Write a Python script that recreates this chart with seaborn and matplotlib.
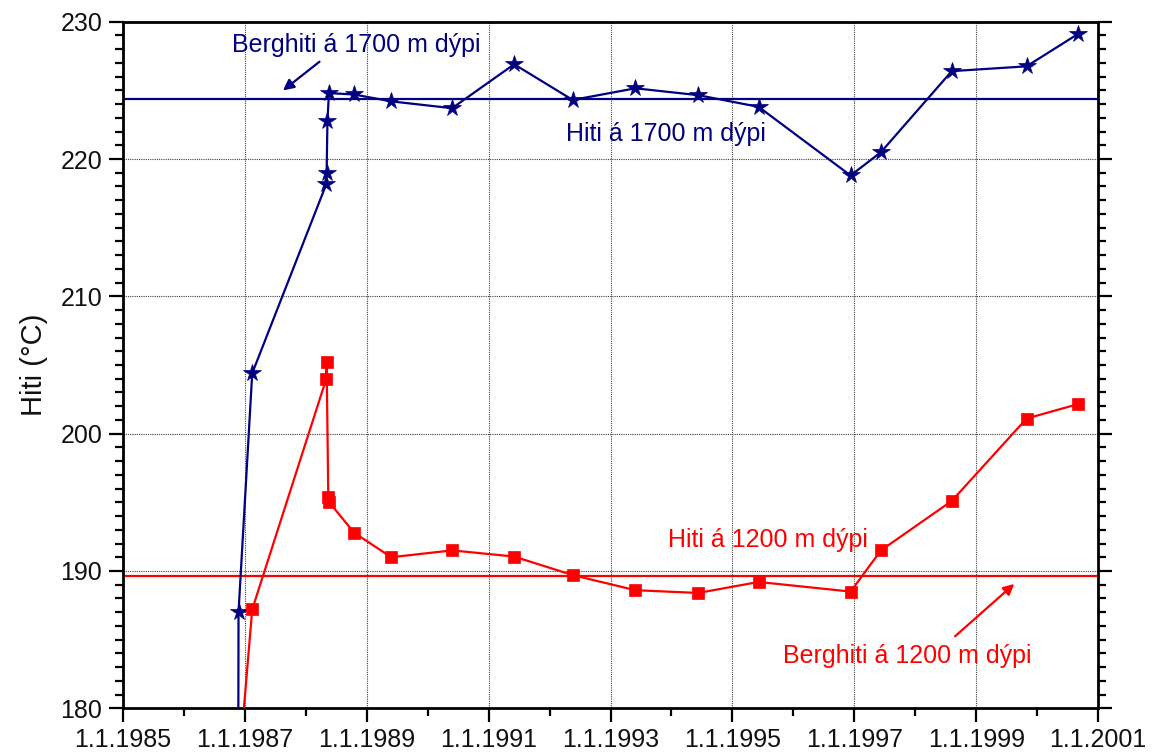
import numpy as np
import pandas as pd
import matplotlib
matplotlib.use("Agg")
import matplotlib.pyplot as plt
from matplotlib.ticker import MultipleLocator, FixedLocator, FuncFormatter
import seaborn as sns

# Measurement dates and temperatures at 1700 m depth
dates_1700 = ["1986-11-20", "1986-11-24", "1987-02-14", "1988-05-04", "1988-05-05",
              "1988-05-10", "1988-05-19", "1988-10-16", "1989-05-27", "1990-05-27",
              "1991-06-03", "1992-05-19", "1993-05-30", "1994-06-10", "1995-06-07",
              "1996-12-10", "1997-06-10", "1998-08-08", "1999-10-30", "2000-09-02"]
temp_1700 = [160.0, 187.0, 204.4, 218.2, 219.0,
             222.8, 224.8, 224.7, 224.2, 223.7,
             226.9, 224.3, 225.15, 224.65, 223.8,
             218.8, 220.5, 226.4, 226.75, 229.1]

# Measurement dates and temperatures at 1200 m depth
dates_1200 = ["1986-11-20", "1987-02-14", "1988-05-03", "1988-05-05", "1988-05-15",
              "1988-05-21", "1988-10-16", "1989-05-27", "1990-05-27", "1991-06-03",
              "1992-05-19", "1993-05-30", "1994-06-10", "1995-06-07", "1996-12-10",
              "1997-06-10", "1998-08-08", "1999-10-30", "2000-09-02"]
temp_1200 = [174.8, 187.2, 204.0, 205.2, 195.4,
             195.0, 192.8, 191.0, 191.5, 191.05,
             189.7, 188.6, 188.4, 189.2, 188.5,
             191.5, 195.1, 201.1, 202.15]

# Formation (rock) temperatures
rock_temp_1700 = 224.35
rock_temp_1200 = 189.67

label_1700 = "Hiti á 1700 m dýpi"
label_1200 = "Hiti á 1200 m dýpi"
rock_label_1700 = "Berghiti á 1700 m dýpi"
rock_label_1200 = "Berghiti á 1200 m dýpi"
ylabel = "Hiti (°C)"
year_ticks = list(range(1985, 2002, 2))

NAVY = "#000080"
RED = "#ff0000"


def decimal_year(d):
    ts = pd.Timestamp(d)
    start = pd.Timestamp(year=ts.year, month=1, day=1)
    end = pd.Timestamp(year=ts.year + 1, month=1, day=1)
    return ts.year + (ts - start) / (end - start)


df1700 = pd.DataFrame({"year": [decimal_year(d) for d in dates_1700], "temp": temp_1700})
df1200 = pd.DataFrame({"year": [decimal_year(d) for d in dates_1200], "temp": temp_1200})

sns.set_theme(style="ticks")
plt.rcParams["font.family"] = ["Liberation Sans", "DejaVu Sans"]

fig = plt.figure(figsize=(11.55, 7.55), dpi=100)
ax = fig.add_axes([123 / 1155, 1 - 708.3 / 755, (1098 - 123) / 1155, (708.3 - 21.7) / 755])

ax.axhline(rock_temp_1700, color=NAVY, lw=1.6, zorder=2)
ax.axhline(rock_temp_1200, color=RED, lw=1.6, zorder=2)

sns.lineplot(data=df1700, x="year", y="temp", ax=ax, estimator=None, sort=False,
             color=NAVY, lw=1.6, marker="*", markersize=13, markeredgecolor=NAVY,
             markeredgewidth=0.5, zorder=3)
sns.lineplot(data=df1200, x="year", y="temp", ax=ax, estimator=None, sort=False,
             color=RED, lw=1.6, marker="s", markersize=8, markeredgecolor=RED,
             markeredgewidth=0.5, zorder=3)

ax.set_xlim(1985, 2001)
ax.set_ylim(180, 230)

ax.xaxis.set_major_locator(FixedLocator(year_ticks))
ax.xaxis.set_minor_locator(MultipleLocator(1))
ax.xaxis.set_major_formatter(FuncFormatter(lambda v, p: f"1.1.{int(round(v))}"))
ax.yaxis.set_major_locator(MultipleLocator(10))
ax.yaxis.set_minor_locator(MultipleLocator(1))

ax.grid(True, which="major", color="0.25", linestyle=(0, (1, 1)), linewidth=0.8, zorder=1)
ax.set_axisbelow(True)

for s in ax.spines.values():
    s.set_visible(True)
    s.set_linewidth(2.0)
    s.set_color("black")

ax.tick_params(axis="both", which="both", direction="out", color="black", width=1.6,
               labelsize=18, labelcolor="#111111")
ax.tick_params(axis="both", which="major", length=10)
ax.tick_params(axis="both", which="minor", length=6)
ax.tick_params(axis="y", which="both", left=True, right=True, labelright=False, pad=5)
ax.tick_params(axis="x", which="both", bottom=True, top=False, pad=4)

ax.set_xlabel("")
ax.set_ylabel(ylabel, fontsize=21, color="#111111")
ax.yaxis.set_label_coords(-0.077, 0.5)

# Curve and rock-temperature labels
ax.text(1986.79, 227.79, rock_label_1700, color=NAVY, fontsize=18, ha="left", va="baseline")
ax.text(1992.27, 221.33, label_1700, color=NAVY, fontsize=18, ha="left", va="baseline")
ax.text(1993.94, 191.76, label_1200, color=RED, fontsize=18, ha="left", va="baseline")
ax.text(1995.83, 183.31, rock_label_1200, color=RED, fontsize=18, ha="left", va="baseline")

ax.annotate("", xy=(1987.59, 224.87), xytext=(1988.26, 227.21),
            arrowprops=dict(arrowstyle="-|>", color=NAVY, lw=1.6, mutation_scale=16))
ax.annotate("", xy=(1999.66, 189.19), xytext=(1998.62, 185.11),
            arrowprops=dict(arrowstyle="-|>", color=RED, lw=1.6, mutation_scale=16))

fig.savefig("out.png", dpi=100)
